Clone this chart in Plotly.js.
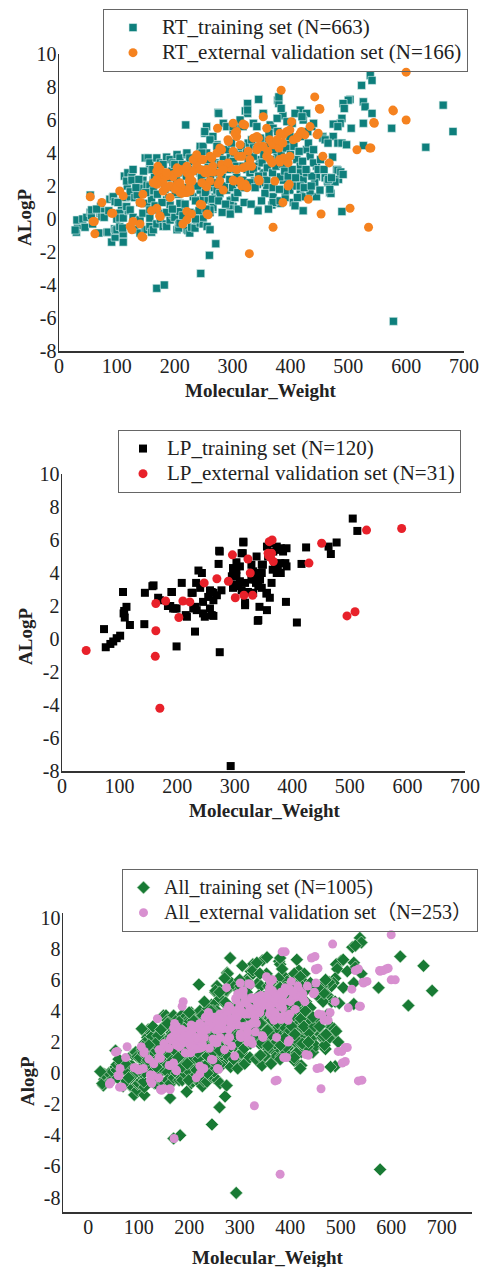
<!DOCTYPE html>
<html><head><meta charset="utf-8">
<script src="https://cdn.plot.ly/plotly-3.0.1.min.js"></script>
<style>html,body{margin:0;padding:0;background:#fff}#chart{width:481px;height:1267px}</style>
</head><body><div id="chart"></div>
<script>
// [Molecular_Weight, ALogP]
const rtTraining = [
[30,-0.8],[32,-0.4],[34,-0.1],[28,-0.67],[31,-0.06],[41,0],[45,-0.5],[48,0.1],[54,0.4],[56,0.2],[56.5,0.55],[58,-0.3],[54,1.45],
[69,-0.85],[71,0.35],[72,0.75],[73,0.45],[74,0.14],[65,0.6],[78,0.1],[83,-0.8],[86,0.5],[85,-0.8],[88,1.2],
[91,-1.4],[97,-1.1],[96,-0.6],[98,-0.7],[100,-0.65],[93,1.3],[94,1.35],[97,1.05],[105,-0.45],[108,0.75],[111,0.35],[111,-1.4],[111,-0.9],[110,-0.55],[105,0.35],[100,0],[105,0.06],[111,0.06],
[115,1.3],[118,2.0],[113,2.6],[117,2.3],[119,2.8],[123,1.35],[123,1.65],[126,2.55],[126,2.35],[102,1.0],[120,0.5],[117,0.75],[123,0.55],[128,0.1],[128,-0.45],[131,-0.65],[134,-0.15],[131,1.3],[135,1.45],[140,1.0],[140,-0.05],[140,-0.85],[143,1.9],[145,0.35],[145,2.35],[149,-0.65],[149,3.7],[152,-0.65],[152,0.95],[152,2.05],[154,3.7],[157,3.4],[157,0.55],[157,0.05],[157,-0.45],[157,3.0],[157,2.0],[160,-0.8],[163,1.7],[163,-0.65],[163,2.35],[169,-0.3],[169,3.7],[169,0.55],[175,3.4],[175,0.3],[175,0],[175,2.8],[180,-0.45],[183,0.35],[185,-0.3],[186,1.15],[186,3.75],[186,-0.45],[192,0.85],[192,-0.06],[192,3.6],[197,3.4],[197,0.25],[200,0.1],[204,-0.65],[204,3.9],[207,-0.35],[207,-0.55],[209,0.45],[209,-0.25],[209,0.95],[209,3.7],[221,0.35],[221,3.9],[221,-0.65],[223,-0.7],[226,-0.85],[221,4.0],[226,3.7],[229,-0.5],[232,3.45],[232,0.35],[232,1.35],[235,-0.55],[238,-0.06],[244,0.5],[244,-0.25],[244,4.2],[244,4.4],[249,-0.3],[249,4.4],[249,1.45],[252,5.2],[255,4.0],[255,1.15],[256,-0.45],[261,-0.65],[264,4.8],[264,0.8],[266,0.6],[266,0.7],[261,0.4],[270,3.4],[273,4.5],[270,1.35],[275,1.55],[265,1.9],[273,1.75],
[245,-3.3],[260,-2.2],[271,-1.5],[169,-4.2],[182,-4.0],[578,-6.2],
[345,7.25],[326,7.0],[275,6.45],[322,6.55],[326,6.4],[353,6.3],[378,7.2],[380,7.0],[387,6.25],[411,6.4],[417,6.6],[428,6.4],[422,6.0],[255,5.6],[252,5.3],[284,5.8],[290,5.6],[266,5.0],[261,4.8],[301,5.4],[313,5.7],[318,5.6],[336,5.8],[342,5.6],[365,5.7],[370,5.5],[394,5.9],[403,5.8],[437,5.6],[430,5.3],[456,5.0],[463,4.8],[474,5.0],[482,4.6],[428,4.2],[434,3.8],[445,3.2],[440,3.4],[411,3.6],[417,3.2],[391,3.6],[394,3.3],[462,2.5],[465,2.2],[480,3.0],[483,2.4],[417,2.8],[422,2.4],[428,2.8],[445,2.55],[442,2.2],[405,2.2],[399,1.75],[417,1.75],[422,1.35],[434,1.6],[445,1.35],[451,1.75],[468,1.6],[370,1.35],[368,0.85],[382,0.95],[388,2.35],[382,2.55],[353,2.8],[359,2.35],[347,3.6],[342,3.2],[359,1.9],[356,1.55],[347,2.2],[370,1.9],[344,0.55],[299,1.15],[301,0.75],[304,1.35],[290,1.75],[278,1.55],[249,0.1],[261,0.55],[255,1.75],[278,2.35],[307,2.55],[318,2.35],[325,3.0],[330,2.8],[330,3.6],[336,3.8],[327,4.6],[336,4.4],[359,4.8],[368,4.4],[377,4.6],[382,4.4],[394,4.6],[399,5.0],[377,3.8],[385,3.6],[247,4.0],[252,3.6],[258,3.2],[273,4.4],[278,4.0],[284,3.6],[296,3.8],[301,3.5],[307,3.2],[313,4.0],[318,3.8],[266,3.2],[273,2.8],[244,2.8],[249,2.35],[244,1.75],[244,1.15],
[538,8.7],[541,8.4],[523,8.1],[503,7.25],[500,7.2],[491,7.0],[493,6.7],[526,7.1],[529,6.8],[541,6.4],[489,6.1],[486,5.8],[474,5.75],[482,5.6],[505,5.5],[526,5.8],[575,5.5],[664,6.9],[681,5.3],[634,4.35],[456,4.9],[460,4.8],[465,4.6],[489,4.6],[497,4.5],[526,4.45],[473,3.75],[482,2.95],[487,2.85],[491,2.7],[460,2.5],[464,2.3],[477,2.25],[470,1.55],[489,0.45],
[294,0.8],[296,1.1],[304,1.3],[344,0.5],[370,1.0],[382,1.1],[391,1.3],[391,1.7],[405,1.0],[408,0.8],[422,0.5],[411,2.0],[417,2.0],[434,1.7],[468,1.8],[466,2.4],[471,2.5],[343,2.1],[338,2.3],[437,2.6],
[219,5.7],[276,6.4],[326,6.6],[380,7.4],[384,6.7],[408,6.4],[420,6.2],[440,5.8],[377,6.1],[353,6.4],[313,6.0],[301,5.6],
[160,1.2],[165,2.6],[170,1.5],[172,2.9],[178,2.2],[180,3.3],[183,1.8],[188,2.5],[190,1.3],[195,2.9],[198,1.9],[200,3.3],[203,2.4],[206,1.5],[210,2.8],[213,3.3],[215,1.9],[218,0.9],[220,2.6],[224,3.0],[227,1.6],[230,2.2],[233,2.9],[236,1.1],[238,3.3],[240,2.0],[242,0.5],[246,2.5],[250,3.0],[253,1.6],[256,2.2],[259,3.6],[262,2.6],[265,1.2],[268,2.2],[272,3.0],[276,1.1],[279,3.3],[282,2.7],[286,2.0],[289,4.2],[292,3.0],[295,2.4],[298,4.6],[300,1.9],[303,4.0],[306,3.0],[309,1.6],[312,2.2],[315,4.4],[318,3.2],[321,1.9],[324,4.0],[327,3.5],[330,2.2],[333,4.8],[336,3.0],[339,1.9],[342,4.2],[345,2.6],[348,4.9],[351,3.4],[354,3.9],[357,4.4],[360,3.1],[363,5.2],[366,3.6],[369,2.8],[372,4.2],[375,3.2],[378,5.3],[381,1.8],[384,4.0],[387,3.3],[390,2.9],[393,4.3],[396,2.6],[400,3.9],[403,3.0],[406,4.4],[409,2.5],[412,1.3],[415,4.1],[418,5.0],[421,3.5],[424,1.9],[427,3.0],[431,4.6],[436,2.0],[440,4.2],[448,3.0],[452,3.6],[458,3.0],[150,1.6],[146,2.9],[138,2.4],[133,1.9],[128,3.0],[162,3.0],[166,0.8],[178,1.0],[186,0.4],[196,0.6],[201,1.6],[214,0.2],[226,0.4],[236,0.0],[254,0.6],[282,0.4],[288,0.9],[296,0.3],[310,0.6],[320,1.0],[332,0.9],[350,1.1],[362,0.6]
];
const rtValidation = [
[600,8.9],[384,7.8],[442,7.4],[450,6.7],[577,6.6],[600,6.0],[545,5.8],[353,6.2],[402,5.9],[448,5.2],[434,5.6],[419,5.3],[425,5.1],[411,4.9],[405,4.8],[388,5.1],[394,5.3],[359,5.5],[345,4.9],[321,5.7],[301,5.8],[274,5.5],[307,5.3],[307,5.0],[293,4.7],[313,4.5],[327,4.1],[278,4.3],[273,4.0],[264,3.7],[244,3.6],[238,3.2],[209,3.0],[204,3.1],[198,2.7],[221,2.8],[232,2.9],[230,2.3],[256,2.8],[261,2.3],[278,2.8],[278,2.3],[296,3.1],[302,2.3],[316,2.0],[316,3.8],[330,3.6],[333,3.2],[346,2.3],[359,3.8],[361,4.1],[370,4.5],[376,4.7],[380,4.3],[364,4.8],[344,4.4],[350,4.4],[336,4.9],[381,3.6],[388,3.7],[399,3.8],[396,3.4],[373,2.3],[396,2.0],[456,3.8],[467,3.4],[515,4.2],[537,4.3],[174,2.6],[169,2.4],[180,2.2],[169,2.9],[186,2.6],[192,2.0],[201,1.8],[212,1.9],[218,1.6],[227,1.7],
[54,1.35],[61,-0.15],[62,-0.9],[74,1.0],[91,0.35],[105,1.7],[111,1.4],[123,-0.45],[126,-0.65],[128,-0.15],[140,-0.3],[145,-1.1],[140,1.0],[145,1.5],[160,0.5],[174,0.2],[169,2.1],[180,1.7],[186,1.9],[192,1.3],[204,2.1],[209,1.6],[214,-0.3],[221,1.6],[226,1.9],[225,2.3],[221,0.45],[229,0.3],[244,0.9],[256,0.3],[275,2.1],[329,-2.1],[370,-0.5],[387,1.0],[398,2.1],[431,1.2],[453,0.3],[503,0.65],[535,-0.5],[322,2.1],[313,2.3],[345,2.4],
[578,6.55],[544,5.85],[451,6.65],[539,4.3],
[318,5.75],[382,5.2],[399,5.4],[417,5.2],[446,5.1],[304,5.2],[292,4.8],[342,5.0],[353,4.4],[368,4.6],[377,4.8],[413,5.0],[387,4.6],[342,4.2],[310,3.8],[301,4.1],[281,4.2],[261,3.8],[249,3.6],[244,3.0],[252,2.8],[281,3.3],[292,3.4],[307,3.0],[318,3.1],[325,3.2],[284,3.0],[266,2.85],[301,2.35],[318,2.05],[325,1.9],[284,1.75],[255,1.95],[247,2.2],[365,3.6],[368,3.4],[382,3.45],[247,0.85],
[93,0.35],[59,-0.15],[143,-1.05],[143,0.95],[175,0.15],[169,0.65],[175,3.0],[163,2.2],[171,3.2],[204,1.95],[209,2.2],[212,1.55],[221,-0.05],[258,0.25],[226,2.55],[216,3.0],[221,3.2],[197,2.55],[206,2.8],[186,2.8],[232,3.6],[255,3.0],[266,3.2],[238,3.9]
];
const lpTraining = [
[505,7.3],[513,6.55],[477,5.85],[463,5.6],[467,5.15],[424,5.55],[416,4.55],[389,2.25],[390,5.5],[384,5.3],[373,5.6],[376,5.4],[356,5.6],[358,5.0],[388,4.6],[390,4.4],[375,4.2],[380,4.0],[338,5.0],[347,4.5],[332,4.1],[315,5.85],[312,5.2],[297,4.3],[303,4.65],[295,3.8],[303,3.8],[309,3.5],[300,3.3],[297,3.1],[318,3.4],[323,2.85],[332,2.8],[340,3.8],[344,3.6],[347,3.1],[337,3.4],[364,3.4],[356,2.8],[361,2.5],[274,5.3],[272,4.55],[237,4.15],[243,4.0],[233,3.4],[240,3.1],[257,2.95],[263,2.8],[277,2.95],[254,2.55],[263,2.35],[245,2.25],[225,2.8],[208,3.4],[191,2.85],[184,2.0],[193,1.85],[188,2.0],[159,3.25],[144,2.8],[106,2.85],[112,1.95],[107,1.55],[170,2.35],[215,1.45],[231,1.95],[234,1.75],[245,1.55],[109,1.3],[108,1.7],[118,0.85],[73,0.6],[76,-0.5],[89,-0.15],[95,0.05],[101,0.2],[84,-0.3],[143,0.9],[199,1.85],[217,1.35],[199,-0.45],[231,0.45],[257,1.85],[248,1.35],[263,1.4],[274,-0.8],[293,-7.7],[318,2.2],[343,1.95],[356,1.75],[340,1.1],[408,1.0],[157,3.2],[167,2.5],[196,1.85],[190,2.85],[227,2.8],[228,1.85],[260,1.45],[269,2.65],[260,2.85],[273,5.35],[297,3.9],[303,4.2],[309,4.4],[314,5.2],[315,5.9],[329,4.5],[336,3.6],[347,4.0],[349,4.5],[361,5.8],[366,4.2],[355,2.75],[341,1.15],[370,4.3],[379,4.6],[373,4.0],[345,4.0],[341,3.2],[329,3.6],[306,3.2],[312,2.95],[318,2.05],[367,5.3],[380,5.5]
];
const lpValidation = [
[590,6.7],[529,6.6],[451,5.8],[429,4.6],[365,6.0],[360,5.9],[358,5.2],[364,5.2],[362,4.95],[367,4.7],[323,4.85],[296,5.1],[327,4.0],[289,3.5],[269,3.65],[247,3.4],[316,2.65],[331,2.65],[301,2.5],[222,2.25],[210,2.3],[180,2.3],[163,2.15],[203,1.3],[495,1.4],[509,1.65],[163,0.5],[162,-1.05],[170,-4.2],[42,-0.7],[359,5.05]
];
// additional compounds appearing only in the combined set
const allTrainingExtra = [
[24,0.1],[162,-1.6],[195,-1.2],[618,7.5],[281,7.4],[413,7.3],[334,7.1],[354,7.45],[529,8.2],[60,0.9],[80,-0.3],[120,1.8],[135,0.4],[200,3.9],[230,4.6],[260,5.2],[270,6.1],[305,6.9],[340,6.4],[300,6.0],[480,0.4],[495,2.0],[470,6.0],[455,5.5],[430,4.0],[445,3.6],[380,0.9],[420,0.3]
];
const allValidationExtra = [
[380,-6.5],[461,-1.0],[484,8.3],[390,7.8],[449,7.5],[455,6.75],[584,6.6],[594,6.75],[608,6.0],[552,5.9],[535,6.7],[522,5.4],[489,4.6],[463,3.75],[479,3.9],[475,3.4],[513,1.65],[502,1.4],[509,0.75],[459,0.35],[542,-0.45],[374,-0.45],[436,1.15],[393,1.0],[188,4.6],[186,4.3],[137,3.5],[77,1.7],[57,1.4],[63,0.3],[67,-0.9],[44,-0.6],[149,-1.0],[162,-1.0],[109,0.3],[123,-0.1],[96,0.3],
[190,2.4],[200,2.2],[205,2.6],[215,2.3],[225,3.0],[235,2.8],[245,3.2],[255,3.4],[262,3.0],[268,3.6],[275,3.8],[282,3.5],[290,4.0],[295,3.6],[300,4.3],[305,3.9],[310,4.6],[320,4.2],[325,4.8],[335,4.5],[340,3.9],[350,4.6],[355,5.0],[360,4.3],[365,5.3],[370,3.9],[375,5.0],[385,4.2],[390,5.5],[400,4.6],[405,5.2],[410,4.1],[415,5.6],[425,4.8],[140,1.5],[150,1.9],[160,1.6],[165,2.3],[175,1.8],[120,0.9],[130,0.6],[100,0.2],[110,1.3],[240,1.6],[250,2.0],[270,1.5],[280,2.3],[290,1.1]
];
const allTraining = rtTraining.concat(lpTraining, allTrainingExtra);
const allValidation = rtValidation.concat(lpValidation, allValidationExtra);

const yTicks = [-8,-6,-4,-2,0,2,4,6,8,10];
const yTickText = ['-8','-6','-4','-2','0','2','4','6','8','10'];
const xTicks = [0,100,200,300,400,500,600,700];
const legendNames = {
  rtT:'RT_training set (N=663)', rtV:'RT_external validation set (N=166)',
  lpT:'LP_training set (N=120)', lpV:'LP_external validation set (N=31)',
  allT:'All_training set (N=1005)', allV:'All_external validation set（N=253）'
};

const W=481, H=1267;
const FONT = 'Liberation Serif, Times New Roman, Noto Sans CJK SC, serif';
const px = v => v/W, py = v => 1 - v/H;
const X = a => a.map(p=>p[0]), Y = a => a.map(p=>p[1]);
const big = (s, fs) => '<span style="font-size:'+fs+'px">'+s+'</span>';

function tr(data, name, fs, xa, ya, leg, color, symbol, size, lineCol){
  return {x:X(data), y:Y(data), name:big(name, fs), type:'scatter', mode:'markers', xaxis:xa, yaxis:ya, legend:leg,
    marker:{color:color, symbol:symbol, size:size, line:{width:lineCol?0.6:0, color:lineCol||color}}};
}
const traces = [
  tr(rtTraining, legendNames.rtT, 21, 'x','y','legend','#0e7f7c','square',8,'#dff0ee'),
  tr(rtValidation, legendNames.rtV, 21, 'x','y','legend','#f5821f','circle',9),
  tr(lpTraining, legendNames.lpT, 21, 'x2','y2','legend2','#000000','square',8),
  tr(lpValidation, legendNames.lpV, 21, 'x2','y2','legend2','#e8212a','circle',9),
  tr(allTraining, legendNames.allT, 20, 'x3','y3','legend3','#187a34','diamond',10,'#d8ecd8'),
  tr(allValidation, legendNames.allV, 20, 'x3','y3','legend3','#d890d0','circle',9)
];

function axX(dom, yanchor, range){
  return {domain:dom, anchor:yanchor, range:range, tickvals:xTicks, ticktext:xTicks.map(String), showline:true, linecolor:'#333', linewidth:1.5,
    showgrid:false, zeroline:false, ticks:'', ticklabelstandoff:-4, tickfont:{family:'Liberation Serif', size:20, color:'#222'}, fixedrange:true};
}
function axY(dom, xanchor, range){
  return {domain:dom, anchor:xanchor, range:range, tickvals:yTicks, ticktext:yTickText, showline:true, linecolor:'#333', linewidth:1.5,
    showgrid:false, zeroline:false, ticks:'', ticklabelstandoff:-3, tickfont:{family:'Liberation Serif', size:20, color:'#222'}, fixedrange:true};
}
function leg(x, y, iw){
  return {x:px(x), y:py(y), xanchor:'left', yanchor:'top', bordercolor:'#666', borderwidth:1, bgcolor:'rgba(255,255,255,0)',
    font:{family:FONT, size:17, color:'#222'}, tracegroupgap:0, itemwidth:iw};
}
function ann(text, x, y, angle){
  return {text:'<b>'+text+'</b>', x:px(x), y:py(y), xref:'paper', yref:'paper', showarrow:false, textangle:angle||0,
    xanchor:'center', yanchor:'middle', font:{family:FONT, size:19, color:'#222'}};
}

const layout = {
  width:W, height:H, margin:{l:0,r:0,t:0,b:0, autoexpand:false}, paper_bgcolor:'#fff', plot_bgcolor:'rgba(0,0,0,0)',
  showlegend:true,
  xaxis: axX([px(59),px(464)],'y',[0,700]),  yaxis: axY([py(351),py(54)],'x',[-8,10]),
  xaxis2: axX([px(62),px(465)],'y2',[0,700]), yaxis2: axY([py(771),py(474)],'x2',[-8,10]),
  xaxis3: axX([px(63),px(472)],'y3',[-50,760]), yaxis3: axY([py(1212),py(913)],'x3',[-8.93,10.3]),
  legend: leg(103,9,48), legend2: leg(118,430,38), legend3: leg(122,869,31),
  annotations:[
    ann('ALogP',24,218,-90), ann('Molecular_Weight',261,390),
    ann('ALogP',25,637,-90), ann('Molecular_Weight',265,810),
    ann('AlogP',27,1081,-90), ann('Molecular_Weight',268,1257)
  ]
};
Plotly.newPlot('chart', traces, layout, {staticPlot:true, displayModeBar:false});
</script></body></html>
